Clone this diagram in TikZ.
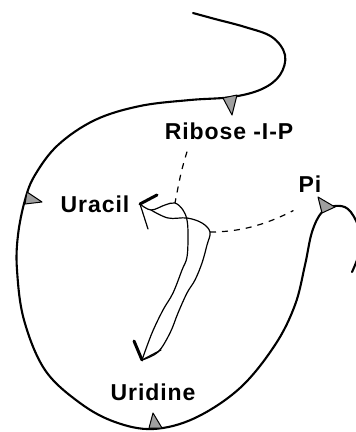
\documentclass[tikz,border=0pt]{standalone}
\usepackage{fontspec}
\newfontfamily\labelfont{Liberation Sans}[LetterSpace=4]
\usetikzlibrary{calc}

\tikzset{
  compound/.style={font=\labelfont\bfseries\fontsize{23}{26}\selectfont, inner sep=0pt},
  chain/.style={line width=2.1pt, line cap=round, line join=round},
  site/.style={draw, fill=gray!75, line width=1pt, line join=round},
  hollow/.style={line width=1.2pt, line cap=round},
  link/.style={dash pattern=on 6pt off 6pt, line width=1.2pt}
}

\begin{document}
\begin{tikzpicture}[x=1pt, y=-1pt]
\useasboundingbox (0,0) rectangle (356,432);
\clip (0,0) rectangle (356,432);

% labels
\node[compound] (rib) at (229,131) {Ribose -I-P};
\node[compound] (ura) at (95,204) {Uracil};
\node[compound] (pi) at (310,184) {Pi};
\node[compound] (uri) at (153,392) {Uridine};

% the long chain round the cycle
\draw[chain] plot[smooth, tension=0.6] coordinates {
  (193,13) (215,19) (245,27) (272,37) (285,55) (280,75) (262,89)
  (232,97) (190,100) (140,106) (95,120) (58,145) (35,175) (25,200)
  (18,235) (17,270) (24,320) (45,370) (80,403) (115,422) (153,429)
  (195,418) (240,388) (275,345) (295,305) (305,265) (312,232)
  (322,212) (335,206) (348,209) (358,225) (362,243) (357,260) (352,272)};

% binding sites
\draw[site] (223,98) -- (237,95) -- (232,115) -- cycle;
\draw[site] (27,192) -- (25,204) -- (42,202) -- cycle;
\draw[site] (149,428) -- (162,428) -- (153,413) -- cycle;
\draw[site] (318,197) -- (322,213) -- (335,207) -- cycle;

% hollow arrow between uracil and uridine
\coordinate (top) at (140,204);
\coordinate (tip) at (142,360);
\coordinate (ribjoin) at (175,203);
\coordinate (pijoin) at (210,232);
\draw[hollow] plot[smooth, tension=0.6] coordinates {
  (top) (151,210) (165,205) (ribjoin) (183,210) (187,220) (188,235)
  (187,257) (182,270) (173,293) (163,310) (152,333) (tip)};
\draw[hollow] plot[smooth, tension=0.6] coordinates {
  (151,210) (168,218) (187,218) (202,223) (pijoin) (207,245)
  (202,263) (195,280) (187,293) (178,313) (170,333) (158,352) (tip)};
\draw[line width=3pt, line cap=round] (top) -- (157,195);
\draw[hollow] (top) -- (148,229);
\draw[line width=3pt, line cap=round] (tip) -- (134,341);
\draw[hollow] (tip) -- (161,350);

% dashed links to the cosubstrates
\draw[link] ([xshift=-42pt, yshift=-12pt]rib.south) .. controls (181,172) .. (ribjoin);
\draw[link] (pijoin) .. controls (240,232) and (265,225) .. ([xshift=-5pt, yshift=-18pt]pi.south west);
\end{tikzpicture}
\end{document}
